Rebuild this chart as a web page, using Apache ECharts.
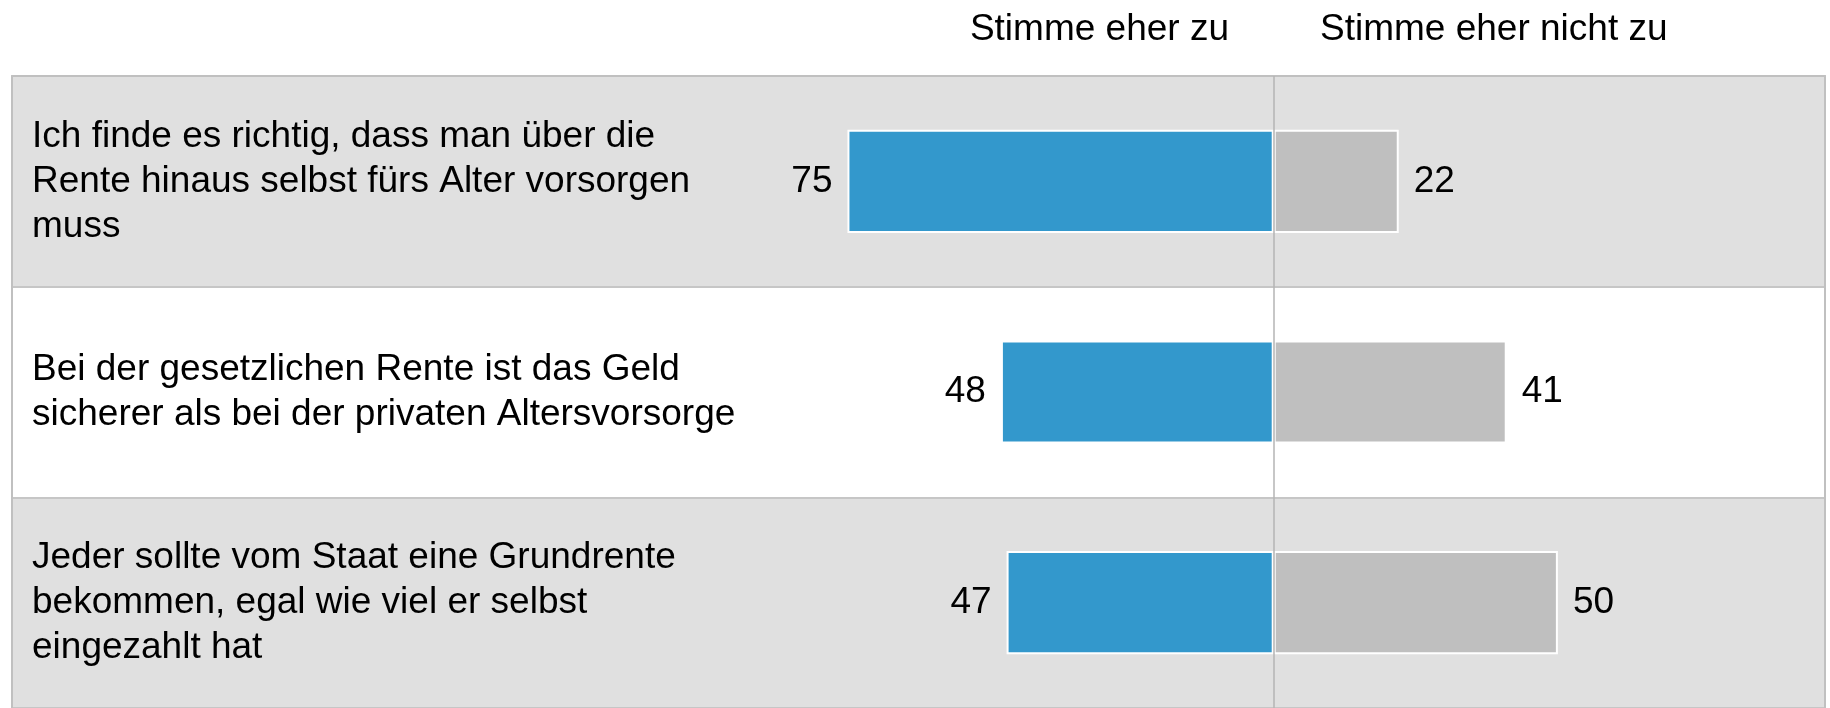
<!DOCTYPE html>
<html>
<head>
<meta charset="utf-8">
<script src="https://cdn.jsdelivr.net/npm/echarts@6/dist/echarts.min.js"></script>
<style>
  html, body { margin: 0; padding: 0; background: #fff; }
  #main { width: 1830px; height: 708px; }
</style>
</head>
<body>
<div id="main"></div>
<script>
// Aussagen (von oben nach unten)
const statements = [
  'Ich finde es richtig, dass man über die\nRente hinaus selbst fürs Alter vorsorgen\nmuss',
  'Bei der gesetzlichen Rente ist das Geld\nsicherer als bei der privaten Altersvorsorge',
  'Jeder sollte vom Staat eine Grundrente\nbekommen, egal wie viel er selbst\neingezahlt hat'
];
const agree = [75, 48, 47];      // Stimme eher zu
const disagree = [22, 41, 50];   // Stimme eher nicht zu

const FONT = "'Liberation Sans', Arial, sans-serif";

const chart = echarts.init(document.getElementById('main'));

const option = {
  animation: false,
  textStyle: { fontFamily: FONT },
  title: [
    {
      text: 'Stimme eher zu',
      right: 601, top: 11, padding: 0,
      textStyle: { fontFamily: FONT, fontSize: 37, fontWeight: 'normal', color: '#000' }
    },
    {
      text: 'Stimme eher nicht zu',
      left: 1320, top: 11, padding: 0,
      textStyle: { fontFamily: FONT, fontSize: 37, fontWeight: 'normal', color: '#000' }
    }
  ],
  grid: { left: 12, right: 5, top: 76, bottom: 0 },
  xAxis: {
    type: 'value',
    position: 'top',
    min: -222,
    max: 97,
    axisLine: { show: true, onZero: false, lineStyle: { color: '#c0c0c0', width: 2 } },
    axisTick: { show: false },
    axisLabel: { show: false },
    splitLine: { show: false }
  },
  yAxis: [
    {
      type: 'category',
      inverse: true,
      data: statements,
      axisLine: { show: true, onZero: false, lineStyle: { color: '#c0c0c0', width: 2 } },
      axisTick: { show: false },
      axisLabel: {
        inside: true,
        interval: 0,
        margin: 20,
        fontSize: 37,
        lineHeight: 45,
        padding: [12, 0, 0, 0],
        color: '#000',
        fontFamily: FONT,
        align: 'left'
      },
      splitArea: { show: true, areaStyle: { color: ['#e0e0e0', '#ffffff'] } },
      splitLine: { show: true, lineStyle: { color: '#c6c6c6', width: 2 } }
    },
    {
      type: 'category',
      inverse: true,
      position: 'right',
      data: statements,
      axisLine: { show: true, onZero: false, lineStyle: { color: '#c0c0c0', width: 2 } },
      axisTick: { show: false },
      axisLabel: { show: false },
      splitLine: { show: false },
      splitArea: { show: false }
    }
  ],
  series: [
    {
      name: 'Stimme eher zu',
      type: 'bar',
      stack: 'total',
      barWidth: '49%',
      data: agree.map(v => -v),
      itemStyle: { color: '#3398cc', borderColor: '#ffffff', borderWidth: 2 },
      label: {
        show: true,
        position: 'left',
        distance: 15,
        fontSize: 37,
        color: '#000',
        fontFamily: FONT,
        formatter: p => Math.abs(p.value)
      }
    },
    {
      name: 'Stimme eher nicht zu',
      type: 'bar',
      stack: 'total',
      barWidth: '49%',
      data: disagree,
      itemStyle: { color: '#bfbfbf', borderColor: '#ffffff', borderWidth: 2 },
      label: {
        show: true,
        position: 'right',
        distance: 15,
        fontSize: 37,
        color: '#000',
        fontFamily: FONT
      },
      markLine: {
        silent: true,
        symbol: 'none',
        label: { show: false },
        lineStyle: { color: '#b4b4b4', width: 1.5, type: 'solid' },
        data: [{ xAxis: 0 }]
      }
    }
  ]
};

chart.setOption(option);
</script>
</body>
</html>
